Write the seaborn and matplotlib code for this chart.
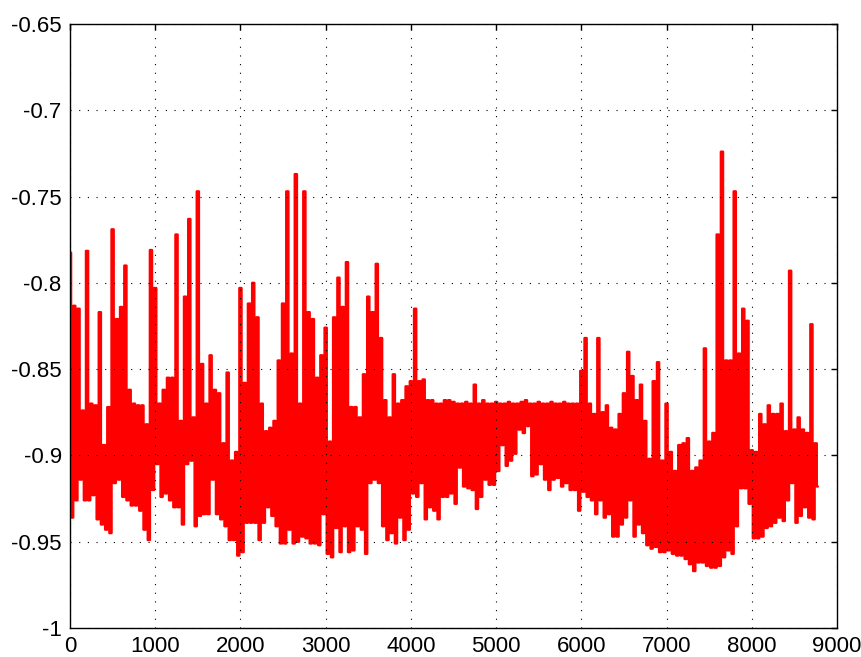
import numpy as np
import pandas as pd
import matplotlib
matplotlib.use("Agg")
import matplotlib.pyplot as plt
import seaborn as sns

# Upper (peak) and lower (trough) values read per 50-hour bin, hours 0..8750
peak_vals = [
    -0.7825, -0.8133, -0.815, -0.874, -0.7815, -0.870, -0.871, -0.817, -0.894, -0.872,
    -0.769, -0.821, -0.814, -0.790, -0.862, -0.870, -0.871, -0.871, -0.882, -0.781,
    -0.803, -0.870, -0.862, -0.855, -0.855, -0.772, -0.880, -0.808, -0.763, -0.878,
    -0.747, -0.847, -0.870, -0.842, -0.862, -0.864, -0.893, -0.852, -0.903, -0.898,
    -0.803, -0.858, -0.812, -0.800, -0.820, -0.870, -0.886, -0.884, -0.880, -0.845,
    -0.812, -0.747, -0.841, -0.737, -0.870, -0.747, -0.817, -0.821, -0.855, -0.842,
    -0.826, -0.892, -0.820, -0.797, -0.814, -0.788, -0.872, -0.872, -0.878, -0.853,
    -0.808, -0.817, -0.789, -0.832, -0.868, -0.878, -0.853, -0.870, -0.868, -0.860,
    -0.857, -0.815, -0.857, -0.856, -0.868, -0.868, -0.870, -0.870, -0.868, -0.868,
    -0.869, -0.870, -0.870, -0.869, -0.870, -0.859, -0.870, -0.868, -0.870, -0.870,
    -0.869, -0.870, -0.870, -0.869, -0.870, -0.870, -0.869, -0.868, -0.870, -0.870,
    -0.869, -0.870, -0.870, -0.869, -0.870, -0.870, -0.869, -0.870, -0.870, -0.870,
    -0.851, -0.832, -0.870, -0.876, -0.832, -0.875, -0.871, -0.884, -0.885, -0.876,
    -0.864, -0.840, -0.854, -0.868, -0.859, -0.880, -0.902, -0.857, -0.846, -0.903,
    -0.870, -0.898, -0.909, -0.894, -0.893, -0.890, -0.909, -0.907, -0.903, -0.838,
    -0.892, -0.887, -0.772, -0.724, -0.845, -0.845, -0.747, -0.841, -0.815, -0.822,
    -0.897, -0.898, -0.876, -0.882, -0.871, -0.876, -0.876, -0.870, -0.886, -0.793,
    -0.885, -0.878, -0.885, -0.887, -0.824, -0.893,
]
trough_vals = [
    -0.936, -0.926, -0.914, -0.926, -0.926, -0.923, -0.937, -0.940, -0.943, -0.945,
    -0.916, -0.914, -0.924, -0.926, -0.929, -0.929, -0.932, -0.943, -0.949, -0.920,
    -0.905, -0.924, -0.922, -0.926, -0.930, -0.930, -0.940, -0.905, -0.903, -0.941,
    -0.935, -0.934, -0.934, -0.914, -0.934, -0.937, -0.941, -0.949, -0.949, -0.958,
    -0.956, -0.939, -0.939, -0.939, -0.949, -0.939, -0.930, -0.935, -0.941, -0.951,
    -0.951, -0.943, -0.951, -0.950, -0.947, -0.948, -0.951, -0.951, -0.952, -0.934,
    -0.957, -0.959, -0.942, -0.956, -0.941, -0.956, -0.955, -0.941, -0.943, -0.957,
    -0.916, -0.914, -0.916, -0.941, -0.949, -0.945, -0.951, -0.936, -0.949, -0.943,
    -0.922, -0.924, -0.916, -0.937, -0.930, -0.932, -0.937, -0.924, -0.924, -0.922,
    -0.928, -0.907, -0.918, -0.919, -0.920, -0.931, -0.924, -0.914, -0.917, -0.917,
    -0.909, -0.894, -0.906, -0.903, -0.899, -0.885, -0.887, -0.883, -0.912, -0.911,
    -0.905, -0.914, -0.920, -0.914, -0.913, -0.918, -0.916, -0.920, -0.920, -0.932,
    -0.921, -0.924, -0.926, -0.934, -0.926, -0.936, -0.934, -0.947, -0.947, -0.940,
    -0.936, -0.926, -0.947, -0.940, -0.945, -0.952, -0.954, -0.953, -0.956, -0.956,
    -0.955, -0.957, -0.958, -0.958, -0.960, -0.963, -0.967, -0.962, -0.962, -0.964,
    -0.965, -0.965, -0.964, -0.959, -0.955, -0.957, -0.941, -0.919, -0.919, -0.928,
    -0.948, -0.948, -0.947, -0.942, -0.941, -0.939, -0.936, -0.938, -0.926, -0.916,
    -0.939, -0.935, -0.930, -0.936, -0.937, -0.918,
]

x_ticks = [0, 1000, 2000, 3000, 4000, 5000, 6000, 7000, 8000, 9000]
x_tick_labels = ["0", "1000", "2000", "3000", "4000", "5000", "6000", "7000", "8000", "9000"]
y_ticks = [-1.0, -0.95, -0.9, -0.85, -0.8, -0.75, -0.7, -0.65]
y_tick_labels = ["-1", "-0.95", "-0.9", "-0.85", "-0.8", "-0.75", "-0.7", "-0.65"]

# interleave peaks and troughs into one hourly-indexed trace
vals = np.empty(2 * len(peak_vals))
vals[0::2] = peak_vals
vals[1::2] = trough_vals
hours = np.arange(len(vals)) * 25
df = pd.DataFrame({"hour": hours, "value": vals})

sns.set_style("white")
plt.rcParams["font.family"] = ["Liberation Sans", "DejaVu Sans"]
plt.rcParams["path.simplify"] = False

fig = plt.figure(figsize=(8.61, 6.57), dpi=100)
ax = fig.add_axes([70 / 861, 29 / 657, 767 / 861, 604 / 657])
sns.lineplot(data=df, x="hour", y="value", color="#ff0000", linewidth=1.75,
             estimator=None, drawstyle="steps-mid", snap=False, ax=ax)

ax.set_xlim(0, 9000)
ax.set_ylim(-1.0, -0.65)
ax.set_xticks(x_ticks)
ax.set_xticklabels(x_tick_labels)
ax.set_yticks(y_ticks)
ax.set_yticklabels(y_tick_labels)
ax.set_xlabel("")
ax.set_ylabel("")

ax.set_axisbelow(False)
ax.grid(True, color="black", linestyle=(0, (1, 6.8)), linewidth=0.8)
ax.tick_params(direction="in", length=4, width=1, top=True, right=True,
               labelsize=16, colors="black", pad=6)
for s in ax.spines.values():
    s.set_color("black")
    s.set_linewidth(1.0)

fig.savefig("out.png", dpi=100)
